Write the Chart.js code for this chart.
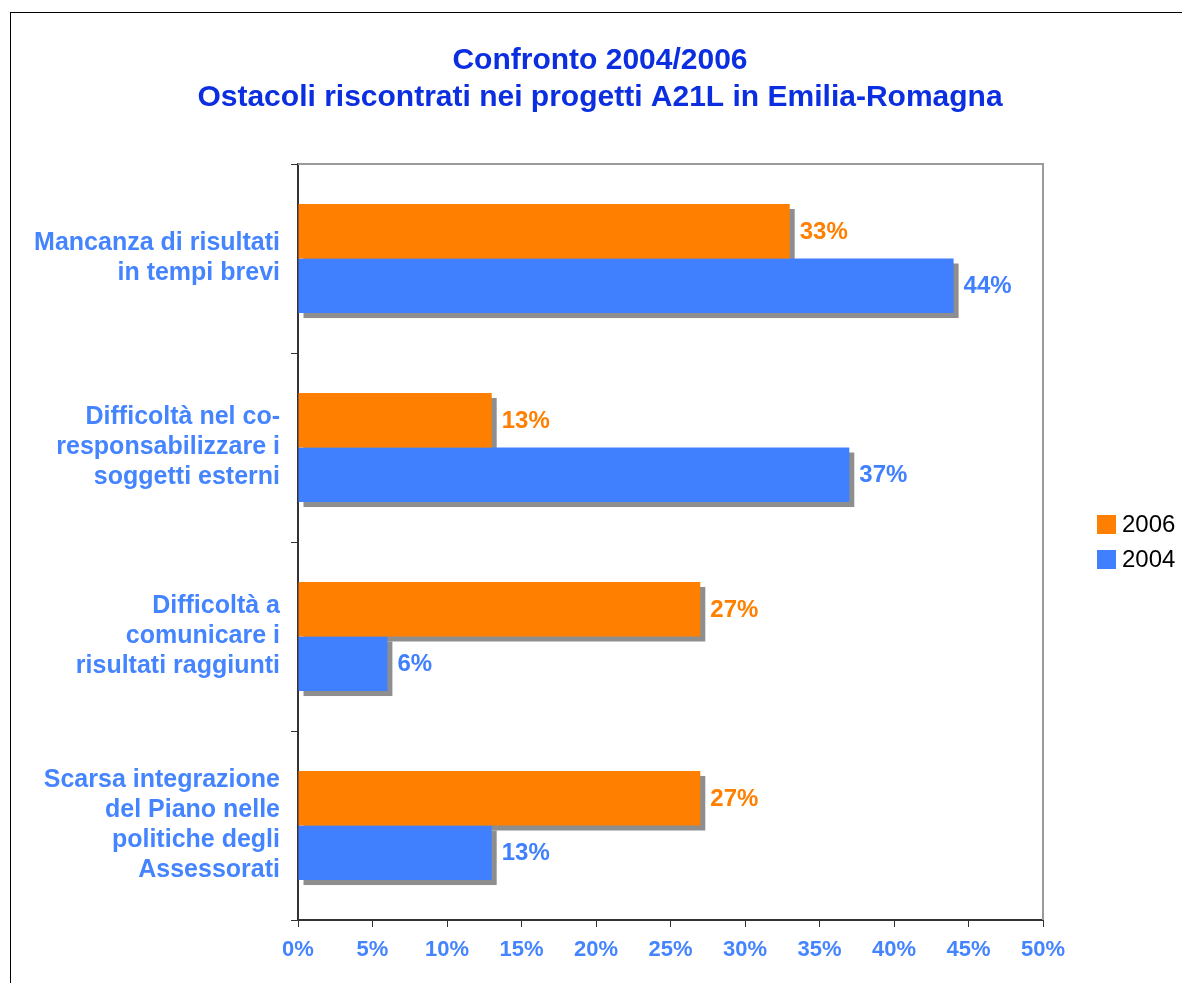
<!DOCTYPE html>
<html>
<head>
<meta charset="utf-8">
<script src="https://cdn.jsdelivr.net/npm/chart.js@4/dist/chart.umd.min.js"></script>
<style>
  html, body { margin: 0; padding: 0; background: #ffffff; }
  #wrap { position: relative; width: 1182px; height: 983px; overflow: hidden; }
  #frame { position: absolute; left: 10px; top: 12px; width: 1300px; height: 1100px;
           border-left: 1px solid #000; border-top: 1px solid #000; }
  #c { position: absolute; left: 0; top: 0; }
</style>
</head>
<body>
<div id="wrap">
  <div id="frame"></div>
  <canvas id="c" width="1182" height="983"></canvas>
</div>
<script>
const titleLines = ["Confronto 2004/2006", "Ostacoli riscontrati nei progetti A21L in Emilia-Romagna"];
const categories = [
  ["Mancanza di risultati", "in tempi brevi"],
  ["Difficoltà nel co-", "responsabilizzare i", "soggetti esterni"],
  ["Difficoltà a", "comunicare i", "risultati raggiunti"],
  ["Scarsa integrazione", "del Piano nelle", "politiche degli", "Assessorati"]
];
const seriesNames = ["2006", "2004"];
const values2006 = [33, 13, 27, 27];
const values2004 = [44, 37, 6, 13];
const xTicks = [0, 5, 10, 15, 20, 25, 30, 35, 40, 45, 50];

const ORANGE = "#ff7f00";
const BLUE = "#4080ff";
const LABEL_BLUE = "#4584ff";
const FONT = "'Liberation Sans', Arial, sans-serif";

const shadowPlugin = {
  id: "shadow",
  beforeDatasetsDraw(chart) {
    const ctx = chart.ctx;
    const a = chart.chartArea;
    ctx.save();
    ctx.strokeStyle = "#9a9a9a";
    ctx.lineWidth = 2;
    ctx.beginPath();
    ctx.moveTo(a.left, a.top);
    ctx.lineTo(a.right, a.top);
    ctx.lineTo(a.right, a.bottom);
    ctx.stroke();
    ctx.fillStyle = "#8e8e8e";
    chart.data.datasets.forEach((ds, i) => {
      const meta = chart.getDatasetMeta(i);
      meta.data.forEach(el => {
        const p = el.getProps(["x", "y", "base", "height"], true);
        const left = Math.min(p.x, p.base);
        const w = Math.abs(p.x - p.base);
        ctx.fillRect(left + 5, p.y - p.height / 2 + 5, w, p.height);
      });
    });
    ctx.restore();
  }
};

const labelPlugin = {
  id: "valueLabels",
  afterDatasetsDraw(chart) {
    const ctx = chart.ctx;
    ctx.save();
    ctx.font = "bold 24px " + FONT;
    ctx.textAlign = "left";
    ctx.textBaseline = "middle";
    chart.data.datasets.forEach((ds, i) => {
      const meta = chart.getDatasetMeta(i);
      ctx.fillStyle = ds.backgroundColor;
      meta.data.forEach((el, j) => {
        const p = el.getProps(["x", "y"], true);
        ctx.fillText(ds.data[j] + "%", p.x + 10, p.y + 1);
      });
    });
    ctx.restore();
  }
};

const legendPlugin = {
  id: "sideLegend",
  afterDraw(chart) {
    const ctx = chart.ctx;
    const a = chart.chartArea;
    const ds = chart.data.datasets;
    const spacing = 35;
    const midY = (a.top + a.bottom) / 2;
    const startY = midY - (ds.length - 1) * spacing / 2;
    const bx = a.right + 54;
    ctx.save();
    ctx.font = "24px " + FONT;
    ctx.textAlign = "left";
    ctx.textBaseline = "middle";
    ds.forEach((d, i) => {
      const cy = startY + i * spacing;
      ctx.fillStyle = d.backgroundColor;
      ctx.fillRect(bx, cy - 9.5, 19, 19);
      ctx.fillStyle = "#000000";
      ctx.fillText(d.label, bx + 25, cy + 1);
    });
    ctx.restore();
  }
};

new Chart(document.getElementById("c"), {
  type: "bar",
  data: {
    labels: categories,
    datasets: [
      { label: seriesNames[0], data: values2006, backgroundColor: ORANGE, borderWidth: 0,
        categoryPercentage: 0.577, barPercentage: 1.0 },
      { label: seriesNames[1], data: values2004, backgroundColor: BLUE, borderWidth: 0,
        categoryPercentage: 0.577, barPercentage: 1.0 }
    ]
  },
  options: {
    indexAxis: "y",
    responsive: false,
    devicePixelRatio: 1,
    animation: false,
    layout: { padding: { left: 18, right: 0, top: 42, bottom: 0 } },
    plugins: {
      legend: { display: false },
      tooltip: { enabled: false },
      title: {
        display: true,
        text: titleLines,
        color: "#0b2ee0",
        font: { family: FONT, size: 30, weight: "bold", lineHeight: 37 / 30 },
        padding: { top: 0, bottom: 48 }
      }
    },
    scales: {
      x: {
        type: "linear",
        min: xTicks[0],
        max: xTicks[xTicks.length - 1],
        afterBuildTicks(scale) { scale.ticks = xTicks.map(v => ({ value: v })); },
        afterFit(scale) { scale.height = 63; },
        ticks: {
          callback: v => v + "%",
          color: LABEL_BLUE,
          font: { family: FONT, size: 22, weight: "bold" },
          padding: 10,
          maxRotation: 0
        },
        grid: { drawOnChartArea: false, drawTicks: true, tickLength: 7, color: "#333333", lineWidth: 1 },
        border: { display: true, color: "#333333", width: 2 }
      },
      y: {
        afterFit(scale) { scale.width = 280; },
        ticks: {
          color: LABEL_BLUE,
          font: { family: FONT, size: 25, weight: "bold", lineHeight: 30 / 25 },
          padding: 11
        },
        grid: { drawOnChartArea: false, drawTicks: true, tickLength: 7, color: "#333333", lineWidth: 1, offset: true },
        border: { display: true, color: "#333333", width: 2 }
      },
      yRight: {
        type: "category",
        position: "right",
        display: true,
        afterFit(scale) { scale.width = 139; },
        ticks: { display: false },
        grid: { display: false, drawTicks: false },
        border: { display: false }
      }
    }
  },
  plugins: [shadowPlugin, labelPlugin, legendPlugin]
});
</script>
</body>
</html>
